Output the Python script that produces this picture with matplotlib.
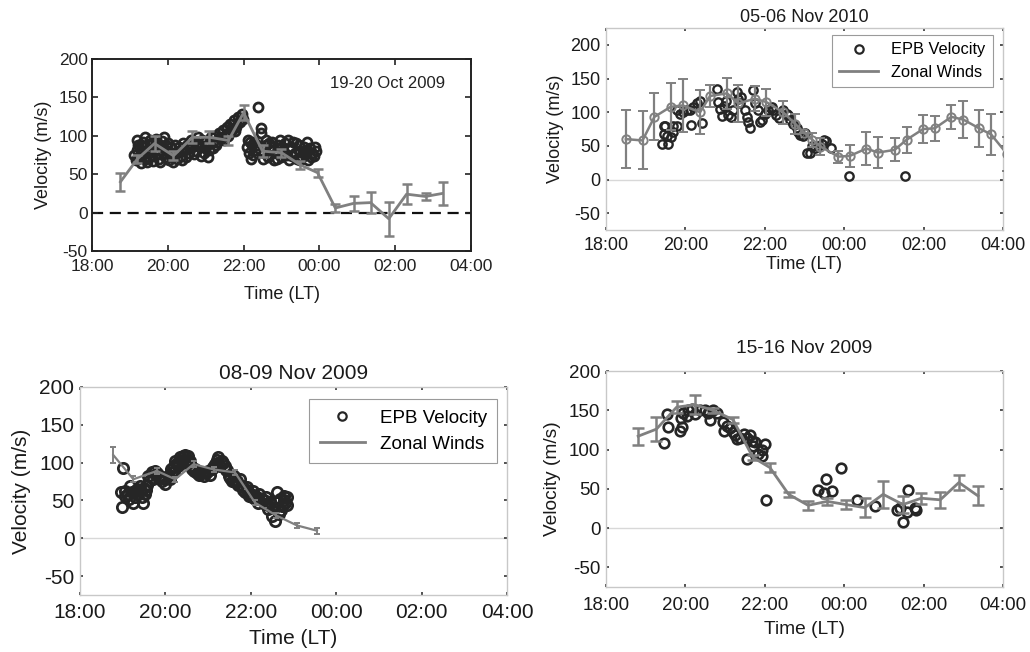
import matplotlib
matplotlib.use("Agg")
import matplotlib.pyplot as plt
import matplotlib.ticker as mticker
from matplotlib.lines import Line2D

W, H = 1030, 652
plt.rcParams["axes.unicode_minus"] = False

# times are hours LT, values after midnight run past 24
# ---- 19-20 Oct 2009 ----
oct19_epb_t = [19.10, 19.15, 19.18, 19.22, 19.25, 19.28, 19.32, 19.35, 19.38, 19.42,
               19.45, 19.48, 19.52, 19.55, 19.58, 19.62, 19.65, 19.70, 19.73, 19.78,
               19.82, 19.85, 19.88, 19.92, 19.95, 19.98, 20.02, 20.06, 20.10, 20.15,
               20.20, 20.25, 20.30, 20.35, 20.40, 20.45, 20.50, 20.55, 20.60, 20.65,
               20.70, 20.75, 20.80, 20.85, 20.90, 20.95, 21.00, 21.05, 21.10, 21.15,
               21.20, 21.25, 21.30, 21.35, 21.40, 21.45, 21.50, 21.55, 21.60, 21.65,
               21.70, 21.75, 21.80, 21.85, 21.90, 21.95,
               19.20, 19.30, 19.40, 19.50, 19.60, 19.68, 19.75, 19.80, 19.90, 20.00,
               20.08, 20.18, 20.28, 20.38, 20.48, 20.58, 20.68, 20.78, 20.88, 20.98,
               21.08, 21.18, 21.28, 21.38, 21.48, 21.58, 21.68, 21.78, 21.88, 21.98,
               22.10, 22.15, 22.18, 22.22, 22.25, 22.30, 22.38, 22.45, 22.47, 22.50,
               22.55, 22.60, 22.65, 22.70, 22.75, 22.80, 22.85, 22.90, 22.95, 23.00,
               23.05, 23.10, 23.15, 23.20, 23.25, 23.30, 23.35, 23.40, 23.45, 23.50,
               23.55, 23.60, 23.65, 23.70, 23.75, 23.80, 23.85, 23.90,
               22.12, 22.20, 22.28, 22.35, 22.58, 22.68, 22.78, 22.88, 22.98, 23.08,
               23.18, 23.28, 23.38, 23.48, 23.58, 23.68, 23.78, 23.88]
oct19_epb_v = [75, 68, 82, 88, 72, 65, 78, 92, 85, 70,
               66, 80, 95, 88, 74, 67, 82, 90, 76, 70,
               85, 93, 78, 72, 88, 80, 68, 75, 72, 66,
               78, 70, 85, 74, 90, 82, 88, 78, 95, 85,
               92, 80, 98, 88, 94, 78, 85, 72, 90, 98,
               84, 100, 92, 104, 96, 108, 100, 112, 104, 116,
               108, 120, 112, 125, 118, 128,
               95, 88, 98, 72, 92, 96, 88, 66, 98, 90,
               85, 88, 80, 68, 72, 84, 76, 90, 74, 92,
               82, 92, 88, 98, 94, 100, 110, 106, 118, 122,
               85, 78, 92, 88, 75, 82, 138, 110, 103, 70,
               78, 88, 72, 82, 92, 68, 78, 88, 95, 72,
               82, 90, 75, 68, 85, 92, 78, 70, 88, 80,
               72, 86, 76, 68, 84, 78, 74, 80,
               95, 70, 92, 88, 95, 90, 85, 70, 85, 76,
               95, 74, 90, 68, 80, 92, 72, 86]
oct19_wind_t = [18.75, 19.20, 19.65, 20.15, 20.65, 21.10, 21.60, 22.00, 22.50, 23.00,
                23.50, 23.95, 24.42, 24.90, 25.35, 25.83, 26.30, 26.80, 27.25]
oct19_wind_v = [40, 70, 90, 74, 98, 98, 94, 130, 80, 78, 62, 52, 6, 12, 13, -8, 24, 21, 25]
oct19_wind_err = [12, 5, 10, 6, 8, 8, 6, 10, 8, 5, 5, 5, 5, 10, 14, 22, 13, 4, 15]

# ---- 05-06 Nov 2010 ----
nov05_epb_t = [19.40, 19.46, 19.48, 19.45, 19.53, 19.57, 19.63, 19.69, 19.78, 19.68,
               19.78, 19.86, 19.95, 20.03, 20.11, 20.20, 20.28, 20.37, 20.13, 20.41,
               20.79, 20.83, 20.87, 20.91, 20.97, 21.02, 21.08, 21.16, 21.20, 21.29,
               21.33, 21.37, 21.41, 21.50, 21.54, 21.58, 21.62, 21.71, 21.75, 21.83,
               21.87, 21.92, 22.00, 22.08, 22.17, 22.21, 22.29, 22.37, 22.46, 22.55,
               22.59, 22.63, 22.71, 22.80, 22.84, 22.88, 22.97, 23.01, 23.07, 23.13,
               23.18, 23.26, 23.34, 23.43, 23.49, 23.54, 23.68, 24.12, 25.53]
nov05_epb_v = [52, 80, 79, 68, 65, 52, 63, 71, 80, 80,
               103, 98, 100, 103, 103, 108, 113, 117, 81, 84,
               134, 115, 105, 94, 109, 117, 96, 93, 103, 130,
               120, 113, 122, 103, 93, 86, 76, 133, 113, 103,
               86, 88, 98, 103, 108, 103, 96, 91, 103, 98,
               96, 88, 83, 76, 71, 66, 65, 69, 39, 40,
               50, 47, 50, 53, 58, 57, 47, 5, 5]
nov05_wind_t = [18.50, 18.92, 19.22, 19.63, 19.93, 20.37, 20.62, 21.05, 21.33, 21.75,
                22.04, 22.46, 22.76, 23.00, 23.20, 23.40, 23.85, 24.14, 24.56, 24.85,
                25.27, 25.57, 25.99, 26.28, 26.70, 27.00, 27.40, 27.70, 28.10]
nov05_wind_v = [60, 58, 93, 108, 110, 100, 124, 128, 113, 120,
                115, 100, 83, 69, 59, 49, 34, 35, 46, 40,
                44, 59, 75, 76, 93, 89, 76, 67, 38]
nov05_wind_err = [43, 43, 35, 35, 40, 33, 16, 23, 27, 19,
                  20, 17, 15, 0, 10, 13, 9, 16, 24, 23,
                  17, 19, 21, 19, 18, 27, 27, 31, 25]

# ---- 08-09 Nov 2009 ----
nov08_epb_t = [19.00, 18.95, 18.98, 19.05, 19.13, 19.21, 19.29, 19.33, 19.41, 19.48,
               19.52, 19.56, 19.45, 19.25, 19.17, 19.37, 19.60, 19.68, 19.76, 19.84,
               19.91, 19.99, 20.07, 20.15, 20.19, 20.27, 20.34, 20.41, 20.46, 20.54,
               20.58, 20.66, 20.73, 20.81, 20.89, 21.00, 21.09, 21.16, 21.24, 21.32,
               21.40, 21.48, 21.55, 21.63, 21.71, 21.79, 21.87, 21.95, 22.02, 22.10,
               22.18, 22.26, 22.34, 22.41, 22.49, 22.57, 22.61, 22.69, 22.77, 22.80,
               22.65, 22.73,
               20.20, 20.30, 20.38, 20.50, 20.60, 20.70, 20.90, 21.05, 21.20, 21.28,
               21.45, 21.60, 21.75, 21.90, 22.05, 22.20, 22.35, 22.45, 19.70, 19.95,
               20.10, 19.40, 19.55,
               19.05, 19.15, 19.30, 19.50, 19.62, 19.80, 19.88, 20.00, 20.12, 20.22,
               20.32, 20.42, 20.52, 20.62, 20.78, 20.95, 21.12, 21.22, 21.35, 21.42,
               21.52, 21.68, 21.82, 21.92, 22.00, 22.15, 22.30, 22.40, 22.55, 22.62,
               22.70, 22.78, 22.85, 22.84]
nov08_epb_v = [93, 61, 41, 56, 58, 61, 54, 65, 69, 47,
               58, 71, 54, 47, 69, 58, 82, 87, 89, 80,
               76, 72, 82, 87, 96, 100, 107, 109, 110, 109,
               102, 89, 86, 87, 87, 89, 91, 98, 107, 102,
               96, 82, 76, 74, 71, 69, 61, 56, 54, 52,
               47, 52, 45, 39, 30, 23, 61, 52, 56, 47,
               32, 43,
               88, 95, 100, 103, 95, 92, 82, 84, 100, 96,
               90, 82, 78, 68, 62, 58, 54, 48, 78, 80,
               78, 62, 64,
               62, 52, 62, 66, 76, 86, 82, 78, 92, 102,
               98, 104, 100, 92, 84, 86, 94, 104, 100, 90,
               80, 76, 64, 64, 58, 54, 50, 44, 40, 48,
               38, 50, 54, 44]
nov08_wind_t = [18.78, 19.25, 19.80, 20.23, 20.66, 21.13, 21.63, 22.10, 22.60, 23.08, 23.55]
nov08_wind_v = [110, 78, 89, 78, 98, 91, 87, 47, 30, 17, 10]
nov08_wind_err = [11, 4, 4, 3, 4, 3, 3, 3, 3, 3, 4]

# ---- 15-16 Nov 2009 ----
nov15_epb_t = [19.47, 19.57, 19.54, 19.86, 19.92, 19.88, 19.95, 20.03, 20.07, 20.16,
               20.24, 20.37, 20.49, 20.58, 20.63, 20.70, 20.79, 20.94, 20.97, 21.04,
               21.12, 21.20, 21.25, 21.29, 21.37, 21.47, 21.54, 21.54, 21.62, 21.67,
               21.71, 21.75, 21.83, 21.92, 22.00, 21.94, 22.04, 23.35, 23.49, 23.55,
               23.70, 23.93, 24.31, 24.77, 25.32, 25.40, 25.48, 25.57, 25.61, 25.78,
               25.82]
nov15_epb_v = [108, 129, 145, 124, 129, 140, 147, 143, 150, 152,
               145, 150, 150, 147, 137, 150, 147, 135, 124, 130,
               128, 122, 118, 113, 115, 120, 115, 88, 118, 111,
               105, 109, 94, 100, 107, 92, 36, 48, 45, 62,
               47, 77, 36, 28, 23, 26, 8, 21, 48, 26,
               23]
nov15_wind_t = [18.81, 19.27, 19.78, 20.24, 20.70, 21.20, 21.70, 22.13, 22.60, 23.09,
                23.57, 24.04, 24.52, 24.98, 25.48, 25.94, 26.42, 26.89, 27.37]
nov15_wind_v = [117, 126, 154, 157, 150, 138, 90, 77, 43, 29,
                34, 30, 26, 43, 30, 38, 36, 58, 41]
nov15_wind_err = [11, 15, 8, 12, 3, 4, 3, 6, 3, 6,
                  4, 6, 12, 17, 11, 7, 10, 10, 12]

HOUR_TICKS = [18, 20, 22, 24, 26, 28]
SANS = ["Liberation Sans", "DejaVu Sans"]
EPB_COLOR = "#262626"
WIND_COLOR = "#808080"


def make_axes(fig, left, top, right, bottom):
    return fig.add_axes([left / W, 1 - bottom / H, (right - left) / W, (bottom - top) / H])


def hour_label(x, _):
    return f"{int(round(x)) % 24:02d}:00"


def style_axes(ax, fontsize, ylim, matlab=True, xpad=4):
    ax.set_xlim(18, 28)
    ax.set_ylim(*ylim)
    ax.set_xticks(HOUR_TICKS)
    ax.set_yticks([-50, 0, 50, 100, 150, 200])
    ax.xaxis.set_major_formatter(mticker.FuncFormatter(hour_label))
    for lab in ax.get_xticklabels() + ax.get_yticklabels():
        lab.set_family(SANS)
        lab.set_fontsize(fontsize)
    if matlab:
        for sp in ax.spines.values():
            sp.set_color("#c8c8c8")
            sp.set_linewidth(1.0)
        ax.tick_params(direction="in", length=2.5, width=1.3, color="#444444",
                       top=True, right=True, pad=4, labelcolor="#1a1a1a")
        ax.tick_params(axis="x", pad=xpad)
        ax.axhline(0, color="#d8d8d8", lw=1.0, zorder=0)
    else:
        for sp in ax.spines.values():
            sp.set_color("#222222")
            sp.set_linewidth(1.4)
        ax.tick_params(direction="in", length=4, width=1.2, color="#222222",
                       top=True, right=True, pad=3, labelcolor="#222222")
        ax.tick_params(axis="x", pad=xpad)


def add_labels(ax, fontsize, xl_y, yl_x):
    ax.set_xlabel("Time (LT)", fontsize=fontsize, family=SANS, va="center", color="#1a1a1a")
    ax.set_ylabel("Velocity (m/s)", fontsize=fontsize, family=SANS, va="center", color="#1a1a1a")
    ax.xaxis.set_label_coords(0.5, xl_y)
    ax.yaxis.set_label_coords(yl_x, 0.5)


def add_legend(ax, fontsize, anchor, spacing, pad):
    handles = [
        Line2D([], [], ls="none", marker="o", mfc="none", mec=EPB_COLOR, mew=1.6, ms=6),
        Line2D([], [], color=WIND_COLOR, lw=2),
    ]
    leg = ax.legend(handles, ["EPB Velocity", "Zonal Winds"], loc="upper right",
                    bbox_to_anchor=anchor, borderaxespad=0, fancybox=False, framealpha=1,
                    edgecolor="#9a9a9a", handlelength=2.4, borderpad=pad,
                    labelspacing=spacing, handletextpad=0.8,
                    prop={"family": SANS, "size": fontsize})
    leg.get_frame().set_linewidth(0.8)


fig = plt.figure(figsize=(W / 100, H / 100), dpi=100)

# top-left: 19-20 Oct 2009
ax1 = make_axes(fig, 92, 59, 471, 251)
style_axes(ax1, 12.5, (-50, 200), matlab=False, xpad=6)
ax1.axhline(0, color="#111111", lw=1.6, ls=(0, (5, 3)), zorder=1)
ax1.plot(oct19_epb_t, oct19_epb_v, ls="none", marker="o", mfc="none", mec=EPB_COLOR,
         mew=2.0, ms=6.5, zorder=2)
ax1.errorbar(oct19_wind_t, oct19_wind_v, yerr=oct19_wind_err, color=WIND_COLOR, lw=2,
             elinewidth=1.8, capsize=3.5, capthick=1.8, zorder=3)
ax1.text(0.78, 0.875, "19-20 Oct 2009", transform=ax1.transAxes, ha="center", va="center",
         fontsize=12, family=SANS, color="#222222")
add_labels(ax1, 13, -0.229, -0.129)

# top-right: 05-06 Nov 2010
ax2 = make_axes(fig, 606, 28, 1003, 230)
style_axes(ax2, 13, (-75, 225), xpad=5)
ax2.plot(nov05_epb_t, nov05_epb_v, ls="none", marker="o", mfc="none", mec=EPB_COLOR,
         mew=1.7, ms=6, zorder=2)
ax2.errorbar(nov05_wind_t, nov05_wind_v, yerr=nov05_wind_err, color=WIND_COLOR, lw=1.8,
             elinewidth=1.6, capsize=3.5, capthick=1.6, marker="o", mfc="none",
             mec=WIND_COLOR, mew=1.4, ms=6, zorder=3)
ax2.text(0.5, 1.054, "05-06 Nov 2010", transform=ax2.transAxes, ha="center", va="center",
         fontsize=13, family=SANS, color="#1a1a1a")
add_labels(ax2, 13, -0.173, -0.128)
add_legend(ax2, 11.8, (0.975, 0.965), 0.45, 0.45)

# bottom-left: 08-09 Nov 2009
ax3 = make_axes(fig, 80, 387, 507, 595)
style_axes(ax3, 15, (-75, 200), xpad=6)
ax3.plot(nov08_epb_t, nov08_epb_v, ls="none", marker="o", mfc="none", mec=EPB_COLOR,
         mew=2.0, ms=7.4, zorder=2)
ax3.errorbar(nov08_wind_t, nov08_wind_v, yerr=nov08_wind_err, color=WIND_COLOR, lw=1.6,
             elinewidth=1.4, capsize=2.5, capthick=1.4, zorder=3)
ax3.text(0.5, 1.067, "08-09 Nov 2009", transform=ax3.transAxes, ha="center", va="center",
         fontsize=15, family=SANS, color="#1a1a1a")
add_labels(ax3, 15, -0.207, -0.136)
add_legend(ax3, 13.5, (0.977, 0.942), 0.5, 0.55)

# bottom-right: 15-16 Nov 2009
ax4 = make_axes(fig, 606, 371, 1003, 587)
style_axes(ax4, 13.5, (-75, 200), xpad=7)
ax4.plot(nov15_epb_t, nov15_epb_v, ls="none", marker="o", mfc="none", mec=EPB_COLOR,
         mew=1.9, ms=6.9, zorder=2)
ax4.errorbar(nov15_wind_t, nov15_wind_v, yerr=nov15_wind_err, color=WIND_COLOR, lw=2,
             elinewidth=1.8, capsize=4, capthick=1.8, zorder=3)
ax4.text(0.5, 1.102, "15-16 Nov 2009", transform=ax4.transAxes, ha="center", va="center",
         fontsize=13.8, family=SANS, color="#1a1a1a")
add_labels(ax4, 13.8, -0.199, -0.136)

fig.savefig("out.png", dpi=100)
